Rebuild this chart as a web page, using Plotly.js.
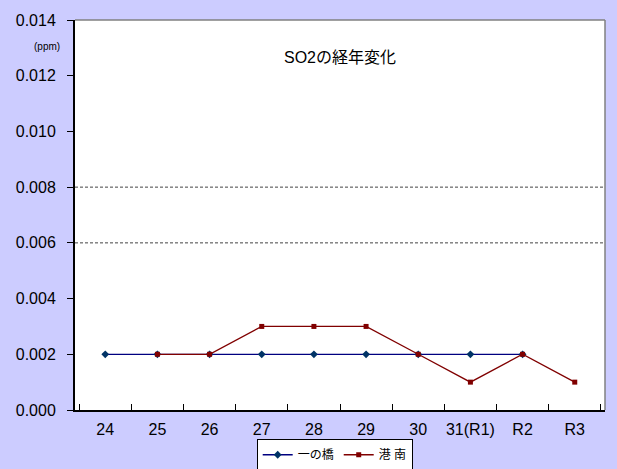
<!DOCTYPE html>
<html>
<head>
<meta charset="utf-8">
<script src="https://cdn.plot.ly/plotly-3.0.1.min.js"></script>
<style>
  body { margin: 0; background: #ccccff; }
  #myDiv { width: 617px; height: 469px; }
</style>
</head>
<body>
<div id="myDiv"></div>
<script>
var years = ['24', '25', '26', '27', '28', '29', '30', '31(R1)', 'R2', 'R3'];
var ichinohashi = [0.002, 0.002, 0.002, 0.002, 0.002, 0.002, 0.002, 0.002, 0.002, null];
var konan = [null, 0.002, 0.002, 0.003, 0.003, 0.003, 0.002, 0.001, 0.002, 0.001];
var gridLevels = [0.006, 0.008];

var fontFam = 'Liberation Sans, Noto Sans CJK JP, sans-serif';

var trace1 = {
    x: years,
    y: ichinohashi,
    name: '一の橋',
    mode: 'lines+markers',
    type: 'scatter',
    line: { color: '#000080', width: 1.3 },
    marker: { color: '#003366', symbol: 'diamond', size: 6 }
};

var trace2 = {
    x: years,
    y: konan,
    name: '港 南',
    mode: 'lines+markers',
    type: 'scatter',
    line: { color: '#800000', width: 1.3 },
    marker: { color: '#800000', symbol: 'square', size: 5 }
};

var shapes = gridLevels.map(function (v) {
    return {
        type: 'line', xref: 'paper', yref: 'y',
        x0: 0, x1: 1, y0: v, y1: v,
        line: { color: '#444444', width: 1, dash: '3px,2px' }
    };
});
// grey top and right edges of the plot frame
shapes.push({ type: 'line', xref: 'paper', yref: 'paper', x0: 0, x1: 1, y0: 1, y1: 1,
    line: { color: '#808080', width: 1.5 } });
shapes.push({ type: 'line', xref: 'paper', yref: 'paper', x0: 1, x1: 1, y0: 0, y1: 1,
    line: { color: '#808080', width: 1.5 } });

var layout = {
    width: 617,
    height: 469,
    margin: { l: 75, r: 12, t: 20, b: 59, autoexpand: false },
    paper_bgcolor: '#ccccff',
    plot_bgcolor: '#ffffff',
    font: { family: fontFam, size: 16, color: '#000000' },
    showlegend: true,
    legend: {
        orientation: 'h',
        x: 0.49, xanchor: 'center',
        y: -0.075, yanchor: 'top',
        bgcolor: '#ffffff',
        bordercolor: '#000000',
        borderwidth: 1,
        font: { family: fontFam, size: 12 },
        itemwidth: 30,
        tracegroupgap: 0
    },
    xaxis: {
        type: 'category',
        automargin: false,
        showline: true,
        linecolor: '#000000',
        linewidth: 2,
        showgrid: false,
        ticks: 'inside',
        tickson: 'boundaries',
        ticklen: 6,
        tickcolor: '#000000',
        tickangle: 0,
        ticklabelstandoff: 4,
        tickfont: { size: 16 },
        fixedrange: true
    },
    yaxis: {
        range: [0, 0.014],
        dtick: 0.002,
        tickformat: '.3f',
        automargin: false,
        showline: true,
        linecolor: '#000000',
        linewidth: 2,
        showgrid: false,
        zeroline: false,
        ticks: 'outside',
        ticklen: 6,
        tickcolor: '#000000',
        ticklabelstandoff: 8,
        tickfont: { size: 16 },
        fixedrange: true
    },
    shapes: shapes,
    annotations: [
        {
            text: 'SO2の経年変化', xref: 'paper', yref: 'paper',
            x: 0.5, y: 0.905, xanchor: 'center', yanchor: 'middle',
            showarrow: false, font: { size: 16 }
        },
        {
            text: '(ppm)', xref: 'paper', yref: 'paper',
            x: -0.025, y: 0.933, xanchor: 'right', yanchor: 'middle',
            showarrow: false, font: { size: 10 }
        }
    ]
};

var config = { displayModeBar: false, responsive: false };

Plotly.newPlot('myDiv', [trace1, trace2], layout, config);
</script>
</body>
</html>
